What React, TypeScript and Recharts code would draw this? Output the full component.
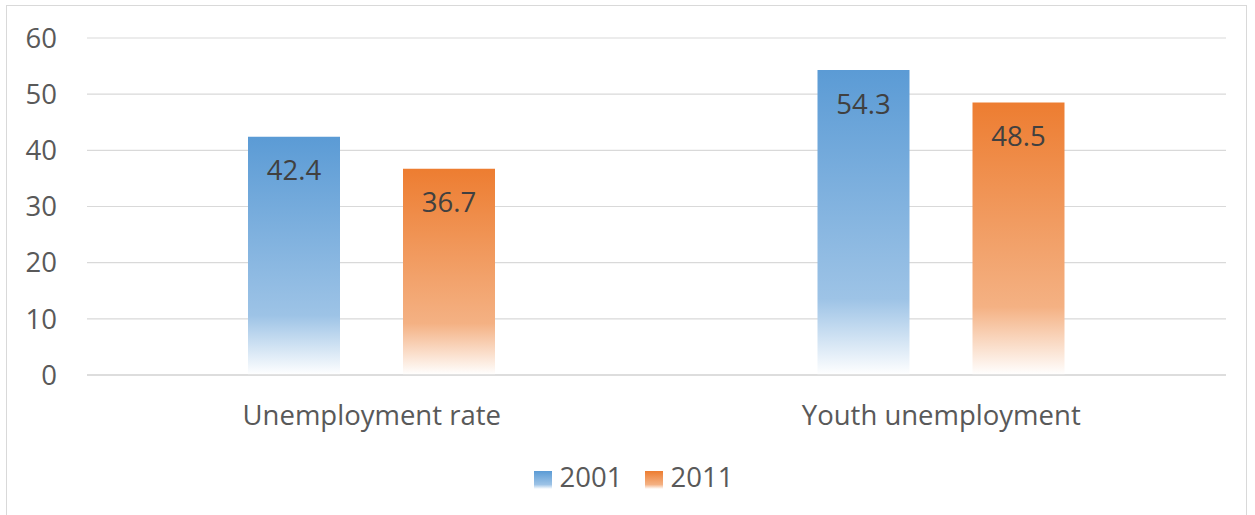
import React from "react";
import { BarChart, Bar, XAxis, YAxis, CartesianGrid, Legend, LabelList } from "recharts";

const categories = ["Unemployment rate", "Youth unemployment"];
const values2001 = [42.4, 54.3];
const values2011 = [36.7, 48.5];
const yTicks = [0, 10, 20, 30, 40, 50, 60];

const data = categories.map((name, i) => ({ name, y2001: values2001[i], y2011: values2011[i] }));

const FONT = "'Open Sans', 'Noto Sans', sans-serif";
const FS = 27.5;

const App: React.FC = () => {
  return (
    <div style={{ position: "absolute", left: 0, top: 0, width: 1255, height: 515, background: "#fff", fontFamily: FONT }}>
      {/* chart frame */}
      <div
        style={{
          position: "absolute",
          left: 6,
          top: 5,
          width: 1241,
          height: 520,
          border: "1px solid #d9d9d9",
          boxSizing: "border-box",
        }}
      />
      <BarChart
        width={1255}
        height={515}
        data={data}
        margin={{ top: 38, right: 29, bottom: 0, left: 27 }}
        barGap={63}
        style={{ position: "absolute", left: 0, top: 0 }}
      >
        <defs>
          <linearGradient id="grad2001" x1="0" y1="0" x2="0" y2="1">
            <stop offset="0%" stopColor="#5B9BD5" />
            <stop offset="75%" stopColor="#9DC3E6" />
            <stop offset="100%" stopColor="#ffffff" />
          </linearGradient>
          <linearGradient id="grad2011" x1="0" y1="0" x2="0" y2="1">
            <stop offset="0%" stopColor="#ED7D31" />
            <stop offset="75%" stopColor="#F4B183" />
            <stop offset="100%" stopColor="#ffffff" />
          </linearGradient>
        </defs>
        <CartesianGrid vertical={false} stroke="#d9d9d9" strokeWidth={1.2} />
        <XAxis
          dataKey="name"
          axisLine={{ stroke: "#d9d9d9", strokeWidth: 1.5 }}
          tickLine={false}
          tickMargin={24}
          height={140}
          tick={{ fontSize: FS, fill: "#595959", fontFamily: FONT }}
        />
        <YAxis
          domain={[0, 60]}
          ticks={yTicks}
          axisLine={false}
          tickLine={false}
          width={60}
          tickMargin={24}
          tick={{ fontSize: FS, fill: "#595959", fontFamily: FONT }}
        />
        <Legend
          verticalAlign="middle"
          align="center"
          iconType="square"
          iconSize={18}
          wrapperStyle={{ top: 458, left: 17, width: 1255, fontSize: FS, fontFamily: FONT }}
          formatter={(value) => <span style={{ color: "#595959", marginLeft: 4, marginRight: 12 }}>{value}</span>}
        />
        <Bar dataKey="y2001" name="2001" fill="url(#grad2001)" barSize={92} isAnimationActive={false}>
          <LabelList dataKey="y2001" position="insideTop" offset={24} fill="#404040" fontSize={FS} fontFamily={FONT} />
        </Bar>
        <Bar dataKey="y2011" name="2011" fill="url(#grad2011)" barSize={92} isAnimationActive={false}>
          <LabelList dataKey="y2011" position="insideTop" offset={24} fill="#404040" fontSize={FS} fontFamily={FONT} />
        </Bar>
      </BarChart>
    </div>
  );
};

export default App;
